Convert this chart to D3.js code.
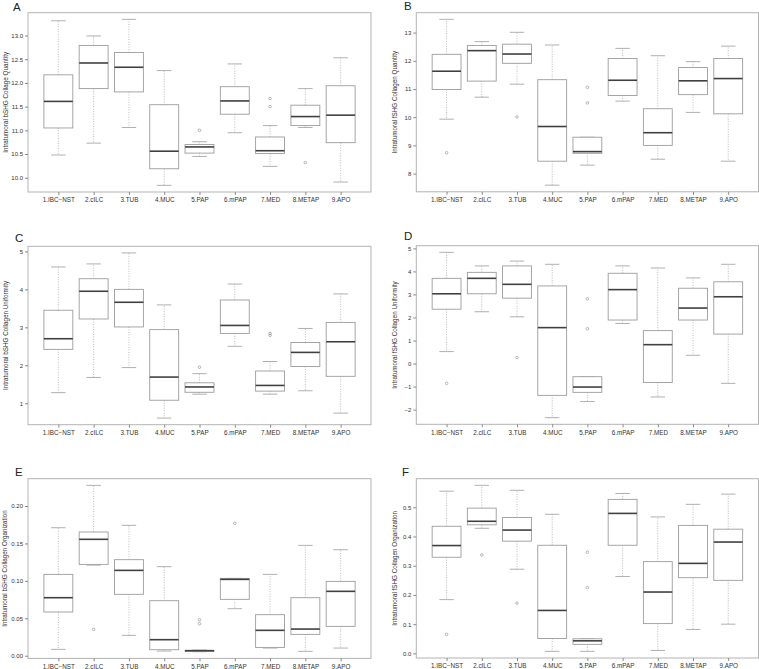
<!DOCTYPE html>
<html><head><meta charset="utf-8">
<script src="https://cdn.jsdelivr.net/npm/d3@7"></script>
<style>
body{margin:0;background:#fff}
svg{display:block}
text{font-family:"Liberation Sans",Arial,Helvetica,sans-serif}
</style>
</head><body>
<svg id="chart" width="759" height="669"></svg>
<script>
// ---------- DATA ----------
const categories = ["1.IBC\u2212NST","2.cILC","3.TUB","4.MUC","5.PAP","6.mPAP","7.MED","8.METAP","9.APO"];

// A: Intratumoral bSHG Collage Quantity
const A_min = [10.48,10.73,11.06,9.84,10.45,10.95,10.24,11.06,9.91];
const A_q1  = [11.05,11.88,11.81,10.19,10.52,11.34,10.51,11.10,10.74];
const A_med = [11.61,12.42,12.33,10.56,10.65,11.62,10.57,11.29,11.32];
const A_q3  = [12.17,12.79,12.64,11.54,10.70,11.92,10.86,11.53,11.94];
const A_max = [13.31,12.99,13.34,12.26,10.76,12.40,11.10,11.88,12.53];
const A_out = [[],[],[],[],[11.0],[],[11.67,11.50],[10.32],[]];
const A_ticks = [10.0,10.5,11.0,11.5,12.0,12.5,13.0];

// B: Intratumoral fSHG Collagen Quantity
const B_min = [9.93,10.71,11.17,7.59,8.30,10.57,8.51,10.17,8.44];
const B_q1  = [10.98,11.28,11.91,8.44,8.72,10.77,9.00,10.80,10.12];
const B_med = [11.63,12.36,12.24,9.67,8.78,11.31,9.45,11.29,11.37];
const B_q3  = [12.23,12.54,12.59,11.33,9.29,12.08,10.30,11.76,12.08];
const B_max = [13.47,12.68,13.01,12.56,9.29,12.44,12.18,11.97,12.52];
const B_out = [[8.74],[],[10.01],[],[11.06,10.51],[],[],[],[]];
const B_ticks = [8,9,10,11,12,13];

// C: Intratumoral bSHG Collagen Uniformity
const C_min = [1.28,1.68,1.94,0.61,1.24,2.50,1.24,1.33,0.74];
const C_q1  = [2.42,3.22,3.01,1.08,1.29,2.84,1.32,1.97,1.71];
const C_med = [2.70,3.95,3.66,1.69,1.43,3.05,1.47,2.34,2.62];
const C_q3  = [3.45,4.28,4.00,2.94,1.54,3.72,1.85,2.60,3.13];
const C_max = [4.59,4.67,4.96,3.59,1.78,4.14,2.10,2.97,3.88];
const C_out = [[],[],[],[],[1.95],[],[2.84,2.79],[],[]];
const C_ticks = [1,2,3,4,5];

// D: Intratumoral fSHG Collagen Uniformity
const D_min = [0.52,2.25,2.03,-2.35,-1.65,1.74,-1.45,0.36,-0.86];
const D_q1  = [2.36,3.03,2.84,-1.38,-1.25,1.89,-0.82,1.89,1.28];
const D_med = [3.03,3.70,3.44,1.56,-1.02,3.21,0.82,2.41,2.90];
const D_q3  = [3.70,3.96,4.24,3.37,-0.57,3.92,1.43,3.27,3.55];
const D_max = [4.83,4.24,4.45,4.31,-0.57,4.24,4.15,3.72,4.31];
const D_out = [[-0.86],[],[0.26],[],[2.81,1.51],[],[],[],[]];
const D_ticks = [-2,-1,0,1,2,3,4,5];

// E: Intratumoral bSHG Collagen Organization
const E_min = [0.0085,0.121,0.0272,0.0062,0.0053,0.0628,0.0102,0.0058,0.0102];
const E_q1  = [0.0584,0.122,0.082,0.008,0.0058,0.0753,0.0111,0.0285,0.0392];
const E_med = [0.0775,0.1555,0.114,0.0214,0.0067,0.102,0.0339,0.0356,0.086];
const E_q3  = [0.1087,0.1653,0.1283,0.0735,0.0071,0.1033,0.0548,0.0775,0.0993];
const E_max = [0.171,0.2276,0.1742,0.119,0.0076,0.1033,0.1087,0.1474,0.1416];
const E_out = [[],[0.0352],[],[],[0.0481,0.0428],[0.1768],[],[],[]];
const E_ticks = [0,0.05,0.10,0.15,0.20];

// F: Intratumoral fSHG Collagen Organization
const F_min = [0.184,0.428,0.288,0.007,0.007,0.263,0.010,0.082,0.100];
const F_q1  = [0.329,0.440,0.384,0.051,0.031,0.370,0.102,0.259,0.250];
const F_med = [0.369,0.452,0.422,0.147,0.043,0.479,0.210,0.308,0.381];
const F_q3  = [0.435,0.497,0.465,0.370,0.050,0.527,0.314,0.438,0.425];
const F_max = [0.555,0.575,0.558,0.476,0.050,0.547,0.467,0.510,0.545];
const F_out = [[0.065],[0.337],[0.172],[],[0.346,0.225],[],[],[],[]];
const F_ticks = [0,0.1,0.2,0.3,0.4,0.5];

// ---------- LAYOUT ----------
const panels = [
  {letter:"A", ylab:"Intratumoral bSHG Collage Quantity",   stats:[A_min,A_q1,A_med,A_q3,A_max], out:A_out, ticks:A_ticks, fmt:".1f",
   frame:[28,371,12.7,192], letterPos:[13,10.7], ylabX:5},
  {letter:"B", ylab:"Intratumoral fSHG Collagen Quantity",  stats:[B_min,B_q1,B_med,B_q3,B_max], out:B_out, ticks:B_ticks, fmt:"d",
   frame:[416.3,758.5,12.7,191.8], letterPos:[404,9.7], ylabX:394},
  {letter:"C", ylab:"Intratumoral bSHG Collagen Uniformity", stats:[C_min,C_q1,C_med,C_q3,C_max], out:C_out, ticks:C_ticks, fmt:"d",
   frame:[28,371,246.3,424.7], letterPos:[15,241.7], ylabX:5},
  {letter:"D", ylab:"Intratumoral fSHG Collagen Uniformity", stats:[D_min,D_q1,D_med,D_q3,D_max], out:D_out, ticks:D_ticks, fmt:"d",
   frame:[416.3,758.5,245.7,424.3], letterPos:[404,240.3], ylabX:394},
  {letter:"E", ylab:"Intratumoral bSHG Collagen Organization", stats:[E_min,E_q1,E_med,E_q3,E_max], out:E_out, ticks:E_ticks, fmt:".2f",
   frame:[28,371,478.7,658.4], letterPos:[15,476], ylabX:4},
  {letter:"F", ylab:"Intratumoral fSHG Collagen Organization", stats:[F_min,F_q1,F_med,F_q3,F_max], out:F_out, ticks:F_ticks, fmt:".1f",
   frame:[416.3,758.5,478.7,658], letterPos:[402,476], ylabX:394}
];

const svg = d3.select("#chart");
const frameColor = "#b3b3b3", boxColor = "#9c9c9c", medColor = "#404040";

panels.forEach(p => {
  const [x0,x1,y0,y1] = p.frame;
  const [mn,q1,md,q3,mx] = p.stats;
  const all = mn.concat(mx, p.out.flat());
  const lo = d3.min(all), hi = d3.max(all), pad = (hi-lo)*0.04;
  const y = d3.scaleLinear().domain([lo-pad, hi+pad]).range([y1,y0]);
  const x = d3.scalePoint().domain(categories).range([x0,x1]).padding(0.86);
  const bw = x.step()*0.82;
  const g = svg.append("g");

  // frame
  g.append("rect").attr("x",x0).attr("y",y0).attr("width",x1-x0).attr("height",y1-y0)
    .attr("fill","none").attr("stroke",frameColor).attr("stroke-width",1);

  // y axis
  const ya = g.append("g").attr("transform",`translate(${x0},0)`)
    .call(d3.axisLeft(y).tickValues(p.ticks).tickSize(3).tickPadding(2).tickFormat(d3.format(p.fmt)));
  ya.select(".domain").remove();
  ya.selectAll("line").attr("stroke","#888");
  ya.selectAll("text").attr("font-size",6).attr("fill","#333").attr("font-family",null);

  // x axis
  const xa = g.append("g").attr("transform",`translate(0,${y1})`)
    .call(d3.axisBottom(x).tickSize(3).tickPadding(3));
  xa.select(".domain").remove();
  xa.selectAll("line").attr("stroke","#888");
  xa.selectAll("text").attr("font-size",6.3).attr("fill","#333").attr("font-family",null);

  // boxes
  categories.forEach((c,i) => {
    const cx = x(c);
    const bg = g.append("g");
    // whiskers (dotted)
    bg.append("line").attr("x1",cx).attr("x2",cx).attr("y1",y(q3[i])).attr("y2",y(mx[i]))
      .attr("stroke","#a8a8a8").attr("stroke-width",0.8).attr("stroke-dasharray","1,1.5");
    bg.append("line").attr("x1",cx).attr("x2",cx).attr("y1",y(q1[i])).attr("y2",y(mn[i]))
      .attr("stroke","#a8a8a8").attr("stroke-width",0.8).attr("stroke-dasharray","1,1.5");
    // caps
    [mn[i],mx[i]].forEach(v => {
      bg.append("line").attr("x1",cx-bw/4).attr("x2",cx+bw/4).attr("y1",y(v)).attr("y2",y(v))
        .attr("stroke",boxColor).attr("stroke-width",0.8);
    });
    // box
    bg.append("rect").attr("x",cx-bw/2).attr("y",y(q3[i])).attr("width",bw)
      .attr("height",Math.max(0.5,y(q1[i])-y(q3[i])))
      .attr("fill","#fff").attr("stroke",boxColor).attr("stroke-width",0.9);
    // median
    bg.append("line").attr("x1",cx-bw/2).attr("x2",cx+bw/2).attr("y1",y(md[i])).attr("y2",y(md[i]))
      .attr("stroke",medColor).attr("stroke-width",1.6);
    // outliers
    p.out[i].forEach(v => {
      bg.append("circle").attr("cx",cx).attr("cy",y(v)).attr("r",1.3)
        .attr("fill","none").attr("stroke","#8a8a8a").attr("stroke-width",0.6);
    });
  });

  // y label
  g.append("text")
    .attr("transform",`translate(${p.ylabX},${(y0+y1)/2}) rotate(-90)`)
    .attr("text-anchor","middle").attr("dominant-baseline","central")
    .attr("font-size",6.3).attr("fill","#333").text(p.ylab);

  // panel letter
  g.append("text").attr("x",p.letterPos[0]).attr("y",p.letterPos[1])
    .attr("font-size",11.5).attr("fill","#222").text(p.letter);
});
</script>
</body></html>
